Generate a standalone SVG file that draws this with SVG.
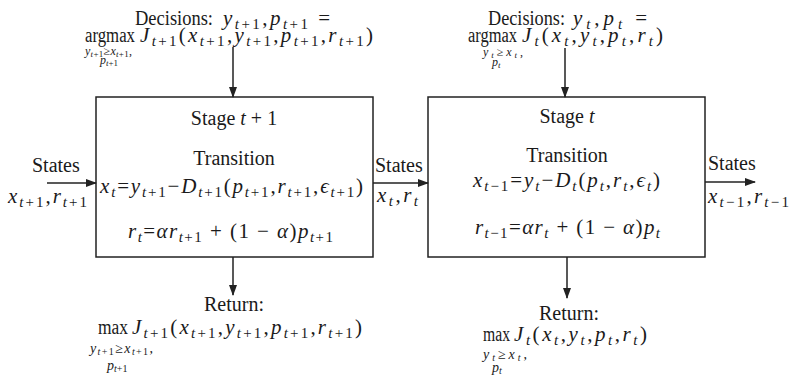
<svg xmlns="http://www.w3.org/2000/svg" width="790" height="377" viewBox="0 0 790 377">
<style>
.t{font-family:"Liberation Serif","DejaVu Serif",serif;font-size:20px;fill:#1a1a1a}
.m{font-family:"Liberation Serif","DejaVu Serif",serif;font-size:21px;fill:#1a1a1a}
.i{font-style:italic}
.s{font-size:15px}
.u{font-family:"Liberation Serif","DejaVu Serif",serif;font-size:12px;fill:#1a1a1a}
.ub{font-family:"Liberation Serif","DejaVu Serif",serif;font-size:14px;fill:#1a1a1a}
.us{font-size:9px}
.ubs{font-size:10px}
.box{fill:#fff;stroke:#222;stroke-width:1.5}
.c{stroke:#222;stroke-width:1.5;fill:none}
</style>
<defs>
<marker id="ah" markerUnits="userSpaceOnUse" markerWidth="11" markerHeight="8" refX="10" refY="4" orient="auto">
<path d="M0,0 L11,4 L0,8 Z" fill="#222"/>
</marker>
</defs>

<g id="decision-t1">
<text class="t" x="135" y="25" textLength="78" lengthAdjust="spacingAndGlyphs">Decisions:</text>
<text class="m" x="223" y="25" textLength="107"><tspan class="i">y</tspan><tspan class="s" dy="4"><tspan class="i">t</tspan>+1</tspan><tspan dy="-4">,</tspan><tspan class="i">p</tspan><tspan class="s" dy="4"><tspan class="i">t</tspan>+1</tspan><tspan dy="-4"> =</tspan></text>
<text class="t" x="85" y="42" textLength="50" lengthAdjust="spacingAndGlyphs">argmax</text>
<text class="m" x="140" y="42" textLength="233"><tspan class="i">J</tspan><tspan class="s" dy="4"><tspan class="i">t</tspan>+1</tspan><tspan dy="-4">(</tspan><tspan class="i">x</tspan><tspan class="s" dy="4"><tspan class="i">t</tspan>+1</tspan><tspan dy="-4">,</tspan><tspan class="i">y</tspan><tspan class="s" dy="4"><tspan class="i">t</tspan>+1</tspan><tspan dy="-4">,</tspan><tspan class="i">p</tspan><tspan class="s" dy="4"><tspan class="i">t</tspan>+1</tspan><tspan dy="-4">,</tspan><tspan class="i">r</tspan><tspan class="s" dy="4"><tspan class="i">t</tspan>+1</tspan><tspan dy="-4">)</tspan></text>
<text class="u" x="85" y="55" textLength="47"><tspan class="i">y</tspan><tspan class="us" dy="2"><tspan class="i">t</tspan>+1</tspan><tspan dy="-2">≥</tspan><tspan class="i">x</tspan><tspan class="us" dy="2"><tspan class="i">t</tspan>+1</tspan><tspan dy="-2">,</tspan></text>
<text class="u" x="100" y="64"><tspan class="i">p</tspan><tspan class="us" dy="2"><tspan class="i">t</tspan>+1</tspan></text>
</g>

<g id="decision-t">
<text class="t" x="488" y="25" textLength="77" lengthAdjust="spacingAndGlyphs">Decisions:</text>
<text class="m" x="573" y="25" textLength="74"><tspan class="i">y</tspan><tspan class="s i" dy="4">t</tspan><tspan dy="-4">,</tspan><tspan class="i">p</tspan><tspan class="s i" dy="4">t</tspan><tspan dy="-4"> =</tspan></text>
<text class="t" x="468" y="42" textLength="49" lengthAdjust="spacingAndGlyphs">argmax</text>
<text class="m" x="522" y="42" textLength="141"><tspan class="i">J</tspan><tspan class="s i" dy="4">t</tspan><tspan dy="-4">(</tspan><tspan class="i">x</tspan><tspan class="s i" dy="4">t</tspan><tspan dy="-4">,</tspan><tspan class="i">y</tspan><tspan class="s i" dy="4">t</tspan><tspan dy="-4">,</tspan><tspan class="i">p</tspan><tspan class="s i" dy="4">t</tspan><tspan dy="-4">,</tspan><tspan class="i">r</tspan><tspan class="s i" dy="4">t</tspan><tspan dy="-4">)</tspan></text>
<text class="u" x="483" y="56" textLength="40"><tspan class="i">y</tspan><tspan class="us i" dy="2">t</tspan><tspan dy="-2">≥</tspan><tspan class="i">x</tspan><tspan class="us i" dy="2">t</tspan><tspan dy="-2">,</tspan></text>
<text class="u" x="492" y="66"><tspan class="i">p</tspan><tspan class="us i" dy="2">t</tspan></text>
</g>

<g id="stage-t1">
<rect class="box" x="96" y="97" width="277" height="160"/>
<text class="t" x="234" y="125" text-anchor="middle">Stage <tspan class="i">t</tspan> + 1</text>
<text class="t" x="234" y="165" text-anchor="middle">Transition</text>
<text class="m" x="100" y="193" textLength="263"><tspan class="i">x</tspan><tspan class="s i" dy="4">t</tspan><tspan dy="-4">=</tspan><tspan class="i">y</tspan><tspan class="s" dy="4"><tspan class="i">t</tspan>+1</tspan><tspan dy="-4">−</tspan><tspan class="i">D</tspan><tspan class="s" dy="4"><tspan class="i">t</tspan>+1</tspan><tspan dy="-4">(</tspan><tspan class="i">p</tspan><tspan class="s" dy="4"><tspan class="i">t</tspan>+1</tspan><tspan dy="-4">,</tspan><tspan class="i">r</tspan><tspan class="s" dy="4"><tspan class="i">t</tspan>+1</tspan><tspan dy="-4">,</tspan><tspan class="i">ϵ</tspan><tspan class="s" dy="4"><tspan class="i">t</tspan>+1</tspan><tspan dy="-4">)</tspan></text>
<text class="m" x="128" y="238" textLength="205"><tspan class="i">r</tspan><tspan class="s i" dy="4">t</tspan><tspan dy="-4">=</tspan><tspan class="i">αr</tspan><tspan class="s" dy="4"><tspan class="i">t</tspan>+1</tspan><tspan dy="-4"> + (1 − </tspan><tspan class="i">α</tspan>)<tspan class="i">p</tspan><tspan class="s" dy="4"><tspan class="i">t</tspan>+1</tspan></text>
</g>

<g id="stage-t">
<rect class="box" x="428" y="97" width="277" height="160"/>
<text class="t" x="567" y="123" text-anchor="middle">Stage <tspan class="i">t</tspan></text>
<text class="t" x="567" y="162" text-anchor="middle">Transition</text>
<text class="m" x="473" y="187" textLength="187"><tspan class="i">x</tspan><tspan class="s" dy="4"><tspan class="i">t</tspan>−1</tspan><tspan dy="-4">=</tspan><tspan class="i">y</tspan><tspan class="s i" dy="4">t</tspan><tspan dy="-4">−</tspan><tspan class="i">D</tspan><tspan class="s i" dy="4">t</tspan><tspan dy="-4">(</tspan><tspan class="i">p</tspan><tspan class="s i" dy="4">t</tspan><tspan dy="-4">,</tspan><tspan class="i">r</tspan><tspan class="s i" dy="4">t</tspan><tspan dy="-4">,</tspan><tspan class="i">ϵ</tspan><tspan class="s i" dy="4">t</tspan><tspan dy="-4">)</tspan></text>
<text class="m" x="475" y="234" textLength="185"><tspan class="i">r</tspan><tspan class="s" dy="4"><tspan class="i">t</tspan>−1</tspan><tspan dy="-4">=</tspan><tspan class="i">αr</tspan><tspan class="s i" dy="4">t</tspan><tspan dy="-4"> + (1 − </tspan><tspan class="i">α</tspan>)<tspan class="i">p</tspan><tspan class="s i" dy="4">t</tspan></text>
</g>

<g id="states-in">
<text class="t" x="32" y="172">States</text>
<text class="m" x="8" y="203" textLength="79"><tspan class="i">x</tspan><tspan class="s" dy="4"><tspan class="i">t</tspan>+1</tspan><tspan dy="-4">,</tspan><tspan class="i">r</tspan><tspan class="s" dy="4"><tspan class="i">t</tspan>+1</tspan></text>
</g>

<g id="states-mid">
<text class="t" x="375" y="172">States</text>
<text class="m" x="377" y="202" textLength="41"><tspan class="i">x</tspan><tspan class="s i" dy="4">t</tspan><tspan dy="-4">,</tspan><tspan class="i">r</tspan><tspan class="s i" dy="4">t</tspan></text>
</g>

<g id="states-out">
<text class="t" x="708" y="170">States</text>
<text class="m" x="708" y="203" textLength="81"><tspan class="i">x</tspan><tspan class="s" dy="4"><tspan class="i">t</tspan>−1</tspan><tspan dy="-4">,</tspan><tspan class="i">r</tspan><tspan class="s" dy="4"><tspan class="i">t</tspan>−1</tspan></text>
</g>

<g id="return-t1">
<text class="t" x="234" y="311" text-anchor="middle">Return:</text>
<text class="t" x="98" y="334" textLength="30" lengthAdjust="spacingAndGlyphs">max</text>
<text class="m" x="132" y="334" textLength="230"><tspan class="i">J</tspan><tspan class="s" dy="4"><tspan class="i">t</tspan>+1</tspan><tspan dy="-4">(</tspan><tspan class="i">x</tspan><tspan class="s" dy="4"><tspan class="i">t</tspan>+1</tspan><tspan dy="-4">,</tspan><tspan class="i">y</tspan><tspan class="s" dy="4"><tspan class="i">t</tspan>+1</tspan><tspan dy="-4">,</tspan><tspan class="i">p</tspan><tspan class="s" dy="4"><tspan class="i">t</tspan>+1</tspan><tspan dy="-4">,</tspan><tspan class="i">r</tspan><tspan class="s" dy="4"><tspan class="i">t</tspan>+1</tspan><tspan dy="-4">)</tspan></text>
<text class="ub" x="90" y="353" textLength="63"><tspan class="i">y</tspan><tspan class="ubs" dy="2"><tspan class="i">t</tspan>+1</tspan><tspan dy="-2">≥</tspan><tspan class="i">x</tspan><tspan class="ubs" dy="2"><tspan class="i">t</tspan>+1</tspan><tspan dy="-2">,</tspan></text>
<text class="ub" x="107" y="370"><tspan class="i">p</tspan><tspan class="ubs" dy="2"><tspan class="i">t</tspan>+1</tspan></text>
</g>

<g id="return-t">
<text class="t" x="569" y="320" text-anchor="middle">Return:</text>
<text class="t" x="483" y="341" textLength="27" lengthAdjust="spacingAndGlyphs">max</text>
<text class="m" x="514" y="341" textLength="133"><tspan class="i">J</tspan><tspan class="s i" dy="4">t</tspan><tspan dy="-4">(</tspan><tspan class="i">x</tspan><tspan class="s i" dy="4">t</tspan><tspan dy="-4">,</tspan><tspan class="i">y</tspan><tspan class="s i" dy="4">t</tspan><tspan dy="-4">,</tspan><tspan class="i">p</tspan><tspan class="s i" dy="4">t</tspan><tspan dy="-4">,</tspan><tspan class="i">r</tspan><tspan class="s i" dy="4">t</tspan><tspan dy="-4">)</tspan></text>
<text class="ub" x="483" y="359" textLength="44"><tspan class="i">y</tspan><tspan class="ubs i" dy="2">t</tspan><tspan dy="-2">≥</tspan><tspan class="i">x</tspan><tspan class="ubs i" dy="2">t</tspan><tspan dy="-2">,</tspan></text>
<text class="ub" x="492" y="372"><tspan class="i">p</tspan><tspan class="ubs i" dy="2">t</tspan></text>
</g>

<g id="connectors">
<line class="c" x1="233" y1="47" x2="233" y2="97" marker-end="url(#ah)"/>
<line class="c" x1="565" y1="48" x2="565" y2="97" marker-end="url(#ah)"/>
<line class="c" x1="47" y1="183" x2="96" y2="183" marker-end="url(#ah)"/>
<line class="c" x1="373" y1="183" x2="428" y2="183" marker-end="url(#ah)"/>
<line class="c" x1="705" y1="182" x2="755" y2="182" marker-end="url(#ah)"/>
<line class="c" x1="233" y1="257" x2="233" y2="295" marker-end="url(#ah)"/>
<line class="c" x1="567" y1="257" x2="567" y2="298" marker-end="url(#ah)"/>
</g>
</svg>
